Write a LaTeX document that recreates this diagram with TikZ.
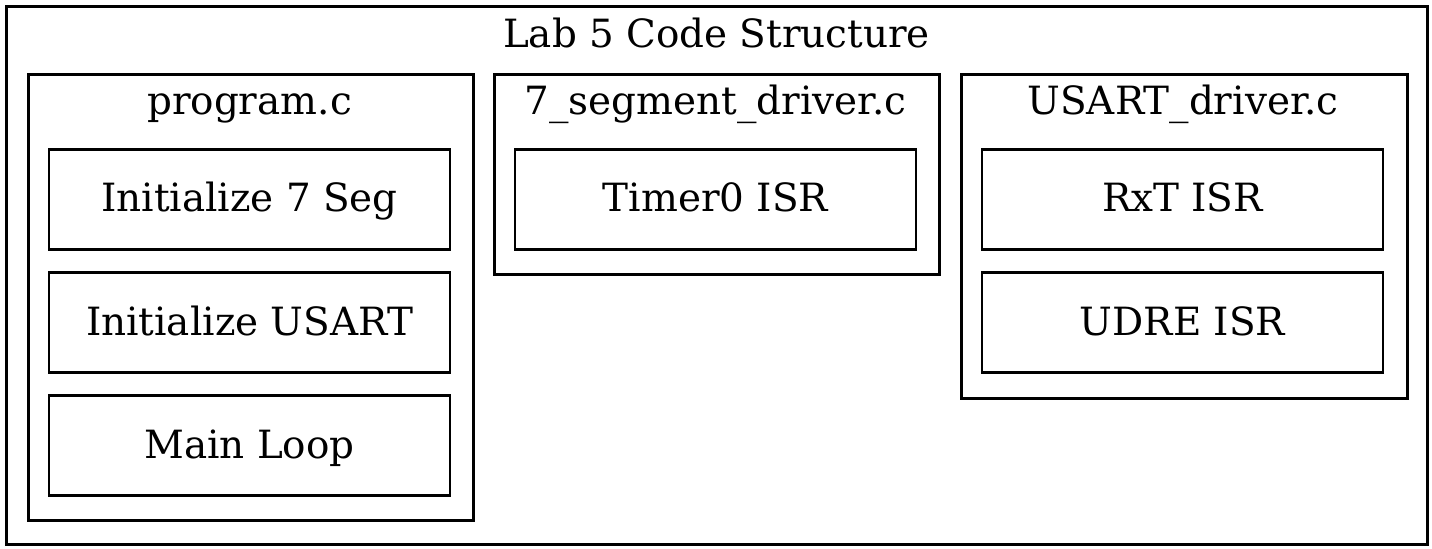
\documentclass[tikz,border=0pt]{standalone}
\usepackage{fontspec}
\setmainfont{DejaVu Serif}
\begin{document}
\begin{tikzpicture}[x=1bp,y=-1bp,
  every node/.style={font=\fontsize{38.9bp}{46bp}\selectfont, inner sep=0pt},
  fn/.style={draw, line width=2.6bp, minimum width=401bp, minimum height=100bp, text height=25bp, text depth=0bp},
  cluster/.style={draw, line width=2.6bp, anchor=north west},
  ttl/.style={anchor=base}]
\useasboundingbox (0,0) rectangle (1432,549);
% outer graph
\node[cluster, minimum width=1421bp, minimum height=538bp] (graph) at (5,5) {};
\node[ttl] (gtitle) at (716.5,48) {Lab 5 Code Structure};
% program.c
\node[cluster, minimum width=445bp, minimum height=446bp] (prog) at (27,73) {};
\node[ttl] (progt) at (249.5,115) {program.c};
\node[fn] (init7) at (249.5,199.5) {Initialize 7 Seg};
\node[fn] (initu) at (249.5,322.5) {Initialize USART};
\node[fn] (mainl) at (249.5,445.5) {Main Loop};
% 7_segment_driver.c
\node[cluster, minimum width=445bp, minimum height=200bp] (seg) at (493,73) {};
\node[ttl] (segt) at (715.5,115) {7\_segment\_driver.c};
\node[fn] (timer) at (715.5,199.5) {Timer0 ISR};
% USART_driver.c
\node[cluster, minimum width=446bp, minimum height=324bp] (usart) at (960,73) {};
\node[ttl] (usartt) at (1183,115) {USART\_driver.c};
\node[fn] (rxt) at (1182.5,199.5) {RxT ISR};
\node[fn] (udre) at (1182.5,322.5) {UDRE ISR};
\end{tikzpicture}
\end{document}
